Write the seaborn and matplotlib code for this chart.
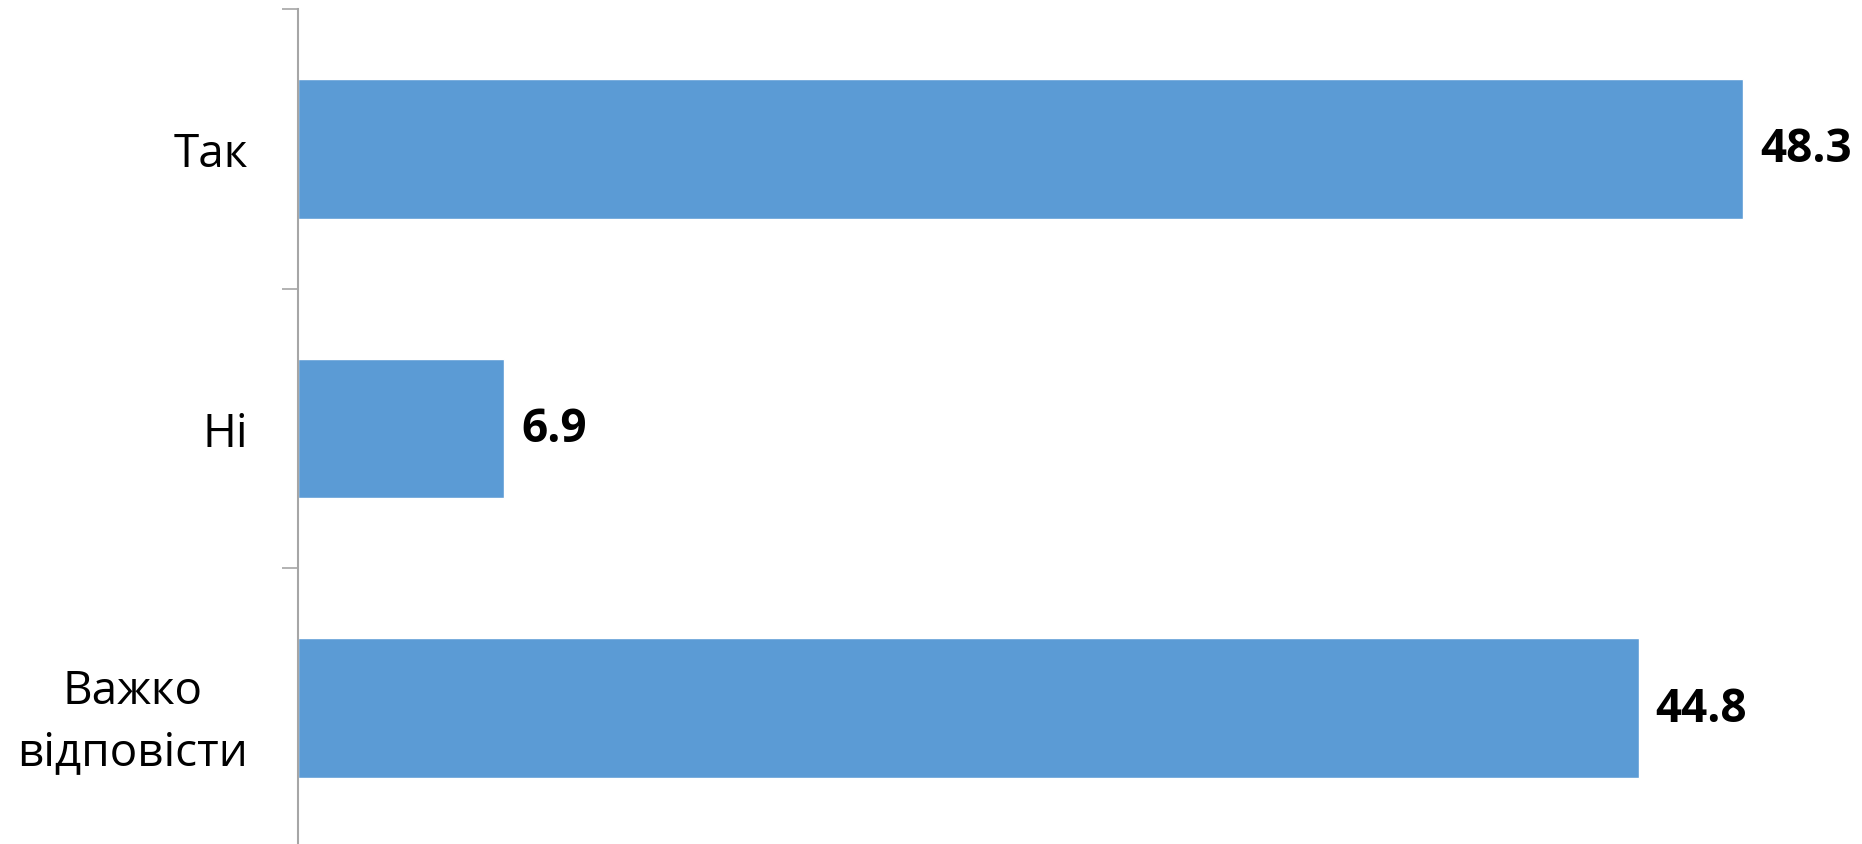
import matplotlib
matplotlib.use("Agg")
import matplotlib.pyplot as plt
import seaborn as sns
import pandas as pd

# Дані з діаграми
categories = ["Так", "Ні", "Важко\nвідповісти"]
values = [48.3, 6.9, 44.8]

BAR_COLOR = "#5B9BD5"
AXIS_COLOR = "#A6A6A6"

sns.set_style("white")
plt.rcParams["font.family"] = ["Open Sans", "DejaVu Sans"]
plt.rcParams["text.color"] = "black"
plt.rcParams["ytick.labelcolor"] = "black"

df = pd.DataFrame({"cat": categories, "val": values})

fig = plt.figure(figsize=(18.62, 8.45), dpi=100)
# вісь Y займає від 10 px зверху до ~849 px (трохи нижче краю)
ax = fig.add_axes([298 / 1862, 1 - 849 / 845, 1556 / 1862, 839 / 845])

sns.barplot(data=df, x="val", y="cat", orient="h", width=0.5,
            color=BAR_COLOR, saturation=1, ax=ax)

ax.set_xlim(0, 52)
ax.set_ylim(2.5, -0.5)
ax.set_xlabel("")
ax.set_ylabel("")
ax.set_xticks([])

for side in ["top", "right", "bottom"]:
    ax.spines[side].set_visible(False)
ax.spines["left"].set_color(AXIS_COLOR)
ax.spines["left"].set_linewidth(1.5)

# мітки між категоріями, як у Excel
ax.set_yticks([-0.5, 0.5, 1.5, 2.5], minor=True)
ax.tick_params(axis="y", which="minor", length=11.5, width=1.2, color=AXIS_COLOR, left=True)
ax.tick_params(axis="y", which="major", length=0, pad=36, labelsize=33, labelcolor="black")
for lbl in ax.get_yticklabels():
    lbl.set_multialignment("center")
    lbl.set_linespacing(1.45)

for c in ax.containers:
    ax.bar_label(c, fmt="%.1f", padding=12, fontsize=33, fontweight="bold", color="black")

plt.savefig("out.png", dpi=100)
plt.close()
